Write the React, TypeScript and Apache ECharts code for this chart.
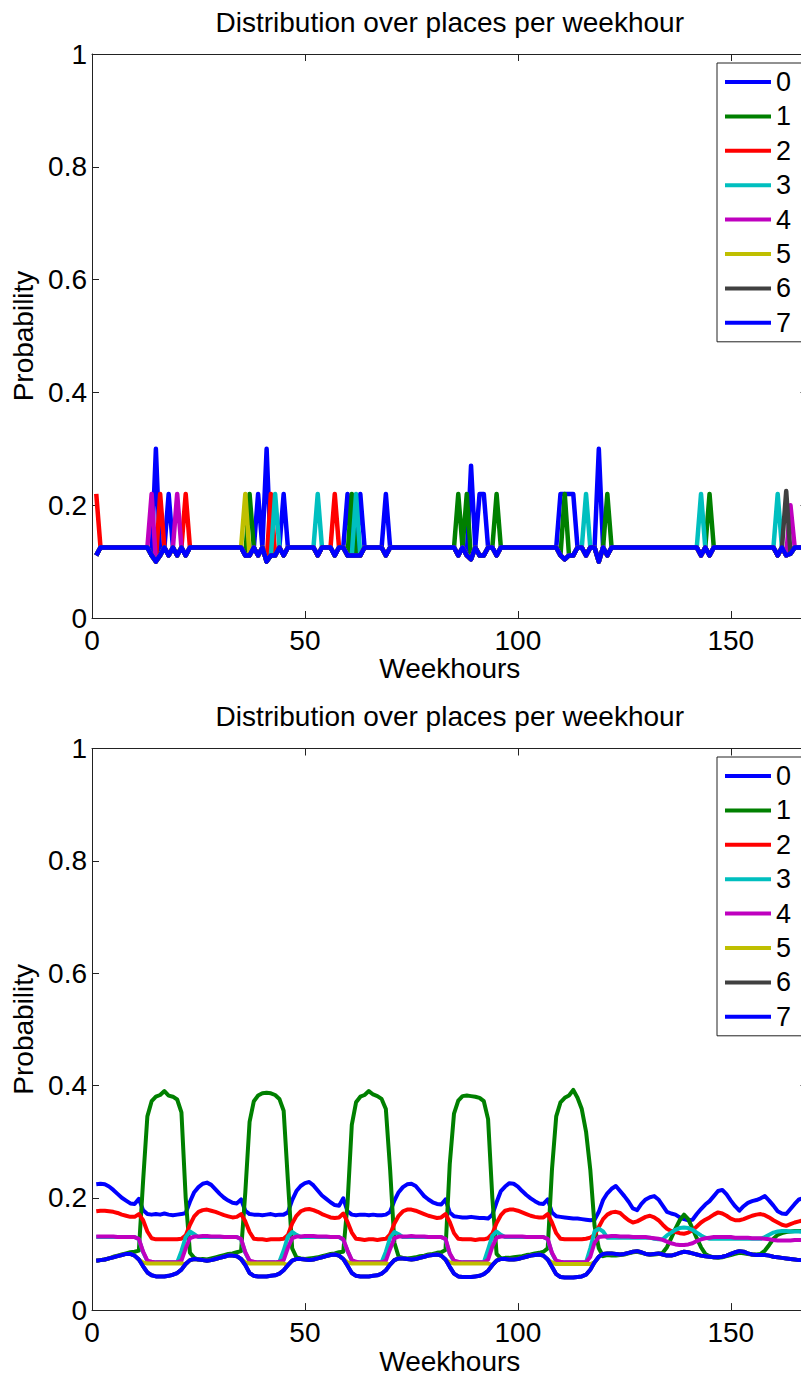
import { useEffect, useRef } from "react";
import * as echarts from "echarts";

// ---------------------------------------------------------------------------
// Data: probability of each place (0..7) for every hour of the week (1..168).
// Each array is written one day (24 hours) per line.
// ---------------------------------------------------------------------------

const HOURS: number[] = Array.from({ length: 168 }, (_, i) => i + 1);

const PLACE_NAMES = ["0", "1", "2", "3", "4", "5", "6", "7"];
const PLACE_COLORS = ["#0000ff", "#008000", "#ff0000", "#00bfbf", "#bf00bf", "#bfbf00", "#404040", "#0000ff"];

const TITLE = "Distribution over places per weekhour";
const X_NAME = "Weekhours";
const Y_NAME = "Probability";
const X_MAX = 168;
const X_STEP = 50;
const Y_MAX = 1;
const Y_STEP = 0.2;

// Upper panel: sparse observations, uniform 1/8 except at a few hours
const topPlace0 = [
  0.111, 0.125, 0.125, 0.125, 0.125, 0.125, 0.125, 0.125, 0.125, 0.125, 0.125, 0.125, 0.125, 0.111, 0.3, 0.111, 0.125, 0.22, 0.125, 0.111, 0.125, 0.111, 0.125, 0.125,
  0.125, 0.125, 0.125, 0.125, 0.125, 0.125, 0.125, 0.125, 0.125, 0.125, 0.125, 0.111, 0.111, 0.125, 0.22, 0.125, 0.3, 0.111, 0.111, 0.125, 0.22, 0.125, 0.125, 0.125,
  0.125, 0.125, 0.125, 0.125, 0.111, 0.125, 0.125, 0.125, 0.111, 0.125, 0.125, 0.22, 0.111, 0.111, 0.22, 0.125, 0.125, 0.125, 0.125, 0.125, 0.22, 0.125, 0.125, 0.125,
  0.125, 0.125, 0.125, 0.125, 0.125, 0.125, 0.125, 0.125, 0.125, 0.125, 0.125, 0.125, 0.125, 0.111, 0.125, 0.111, 0.27, 0.125, 0.22, 0.22, 0.125, 0.125, 0.111, 0.125,
  0.125, 0.125, 0.125, 0.125, 0.125, 0.125, 0.125, 0.125, 0.125, 0.125, 0.125, 0.125, 0.125, 0.22, 0.22, 0.22, 0.22, 0.125, 0.125, 0.111, 0.125, 0.125, 0.3, 0.125,
  0.111, 0.125, 0.125, 0.125, 0.125, 0.125, 0.125, 0.125, 0.125, 0.125, 0.125, 0.125, 0.125, 0.125, 0.125, 0.125, 0.125, 0.125, 0.125, 0.125, 0.125, 0.125, 0.111, 0.125,
  0.111, 0.125, 0.125, 0.125, 0.125, 0.125, 0.125, 0.125, 0.125, 0.125, 0.125, 0.125, 0.125, 0.125, 0.125, 0.125, 0.111, 0.125, 0.111, 0.114, 0.125, 0.125, 0.125, 0.125,
];
const topPlace1 = [
  0.111, 0.125, 0.125, 0.125, 0.125, 0.125, 0.125, 0.125, 0.125, 0.125, 0.125, 0.125, 0.125, 0.111, 0.1, 0.111, 0.125, 0.111, 0.125, 0.111, 0.125, 0.111, 0.125, 0.125,
  0.125, 0.125, 0.125, 0.125, 0.125, 0.125, 0.125, 0.125, 0.125, 0.125, 0.125, 0.111, 0.22, 0.125, 0.111, 0.125, 0.1, 0.111, 0.111, 0.125, 0.111, 0.125, 0.125, 0.125,
  0.125, 0.125, 0.125, 0.125, 0.111, 0.125, 0.125, 0.125, 0.111, 0.125, 0.125, 0.111, 0.22, 0.111, 0.111, 0.125, 0.125, 0.125, 0.125, 0.125, 0.111, 0.125, 0.125, 0.125,
  0.125, 0.125, 0.125, 0.125, 0.125, 0.125, 0.125, 0.125, 0.125, 0.125, 0.125, 0.125, 0.125, 0.22, 0.125, 0.22, 0.104, 0.125, 0.111, 0.111, 0.125, 0.125, 0.22, 0.125,
  0.125, 0.125, 0.125, 0.125, 0.125, 0.125, 0.125, 0.125, 0.125, 0.125, 0.125, 0.125, 0.125, 0.111, 0.22, 0.111, 0.111, 0.125, 0.125, 0.111, 0.125, 0.125, 0.1, 0.125,
  0.22, 0.125, 0.125, 0.125, 0.125, 0.125, 0.125, 0.125, 0.125, 0.125, 0.125, 0.125, 0.125, 0.125, 0.125, 0.125, 0.125, 0.125, 0.125, 0.125, 0.125, 0.125, 0.111, 0.125,
  0.22, 0.125, 0.125, 0.125, 0.125, 0.125, 0.125, 0.125, 0.125, 0.125, 0.125, 0.125, 0.125, 0.125, 0.125, 0.125, 0.111, 0.125, 0.111, 0.114, 0.125, 0.125, 0.125, 0.125,
];
const topPlace2 = [
  0.22, 0.125, 0.125, 0.125, 0.125, 0.125, 0.125, 0.125, 0.125, 0.125, 0.125, 0.125, 0.125, 0.111, 0.1, 0.22, 0.125, 0.111, 0.125, 0.111, 0.125, 0.22, 0.125, 0.125,
  0.125, 0.125, 0.125, 0.125, 0.125, 0.125, 0.125, 0.125, 0.125, 0.125, 0.125, 0.111, 0.111, 0.125, 0.111, 0.125, 0.1, 0.22, 0.111, 0.125, 0.111, 0.125, 0.125, 0.125,
  0.125, 0.125, 0.125, 0.125, 0.111, 0.125, 0.125, 0.125, 0.22, 0.125, 0.125, 0.111, 0.111, 0.111, 0.111, 0.125, 0.125, 0.125, 0.125, 0.125, 0.111, 0.125, 0.125, 0.125,
  0.125, 0.125, 0.125, 0.125, 0.125, 0.125, 0.125, 0.125, 0.125, 0.125, 0.125, 0.125, 0.125, 0.111, 0.125, 0.111, 0.104, 0.125, 0.111, 0.111, 0.125, 0.125, 0.111, 0.125,
  0.125, 0.125, 0.125, 0.125, 0.125, 0.125, 0.125, 0.125, 0.125, 0.125, 0.125, 0.125, 0.125, 0.111, 0.104, 0.111, 0.111, 0.125, 0.125, 0.111, 0.125, 0.125, 0.1, 0.125,
  0.111, 0.125, 0.125, 0.125, 0.125, 0.125, 0.125, 0.125, 0.125, 0.125, 0.125, 0.125, 0.125, 0.125, 0.125, 0.125, 0.125, 0.125, 0.125, 0.125, 0.125, 0.125, 0.111, 0.125,
  0.111, 0.125, 0.125, 0.125, 0.125, 0.125, 0.125, 0.125, 0.125, 0.125, 0.125, 0.125, 0.125, 0.125, 0.125, 0.125, 0.111, 0.125, 0.111, 0.114, 0.125, 0.125, 0.125, 0.125,
];
const topPlace3 = [
  0.111, 0.125, 0.125, 0.125, 0.125, 0.125, 0.125, 0.125, 0.125, 0.125, 0.125, 0.125, 0.125, 0.111, 0.1, 0.111, 0.125, 0.111, 0.125, 0.111, 0.125, 0.111, 0.125, 0.125,
  0.125, 0.125, 0.125, 0.125, 0.125, 0.125, 0.125, 0.125, 0.125, 0.125, 0.125, 0.111, 0.111, 0.125, 0.111, 0.125, 0.1, 0.111, 0.22, 0.125, 0.111, 0.125, 0.125, 0.125,
  0.125, 0.125, 0.125, 0.125, 0.22, 0.125, 0.125, 0.125, 0.111, 0.125, 0.125, 0.111, 0.111, 0.22, 0.111, 0.125, 0.125, 0.125, 0.125, 0.125, 0.111, 0.125, 0.125, 0.125,
  0.125, 0.125, 0.125, 0.125, 0.125, 0.125, 0.125, 0.125, 0.125, 0.125, 0.125, 0.125, 0.125, 0.111, 0.125, 0.111, 0.104, 0.125, 0.111, 0.111, 0.125, 0.125, 0.111, 0.125,
  0.125, 0.125, 0.125, 0.125, 0.125, 0.125, 0.125, 0.125, 0.125, 0.125, 0.125, 0.125, 0.125, 0.111, 0.104, 0.111, 0.111, 0.125, 0.125, 0.22, 0.125, 0.125, 0.1, 0.125,
  0.111, 0.125, 0.125, 0.125, 0.125, 0.125, 0.125, 0.125, 0.125, 0.125, 0.125, 0.125, 0.125, 0.125, 0.125, 0.125, 0.125, 0.125, 0.125, 0.125, 0.125, 0.125, 0.22, 0.125,
  0.111, 0.125, 0.125, 0.125, 0.125, 0.125, 0.125, 0.125, 0.125, 0.125, 0.125, 0.125, 0.125, 0.125, 0.125, 0.125, 0.22, 0.125, 0.111, 0.114, 0.125, 0.125, 0.125, 0.125,
];
const topPlace4 = [
  0.111, 0.125, 0.125, 0.125, 0.125, 0.125, 0.125, 0.125, 0.125, 0.125, 0.125, 0.125, 0.125, 0.22, 0.1, 0.111, 0.125, 0.111, 0.125, 0.22, 0.125, 0.111, 0.125, 0.125,
  0.125, 0.125, 0.125, 0.125, 0.125, 0.125, 0.125, 0.125, 0.125, 0.125, 0.125, 0.111, 0.111, 0.125, 0.111, 0.125, 0.1, 0.111, 0.111, 0.125, 0.111, 0.125, 0.125, 0.125,
  0.125, 0.125, 0.125, 0.125, 0.111, 0.125, 0.125, 0.125, 0.111, 0.125, 0.125, 0.111, 0.111, 0.111, 0.111, 0.125, 0.125, 0.125, 0.125, 0.125, 0.111, 0.125, 0.125, 0.125,
  0.125, 0.125, 0.125, 0.125, 0.125, 0.125, 0.125, 0.125, 0.125, 0.125, 0.125, 0.125, 0.125, 0.111, 0.125, 0.111, 0.104, 0.125, 0.111, 0.111, 0.125, 0.125, 0.111, 0.125,
  0.125, 0.125, 0.125, 0.125, 0.125, 0.125, 0.125, 0.125, 0.125, 0.125, 0.125, 0.125, 0.125, 0.111, 0.104, 0.111, 0.111, 0.125, 0.125, 0.111, 0.125, 0.125, 0.1, 0.125,
  0.111, 0.125, 0.125, 0.125, 0.125, 0.125, 0.125, 0.125, 0.125, 0.125, 0.125, 0.125, 0.125, 0.125, 0.125, 0.125, 0.125, 0.125, 0.125, 0.125, 0.125, 0.125, 0.111, 0.125,
  0.111, 0.125, 0.125, 0.125, 0.125, 0.125, 0.125, 0.125, 0.125, 0.125, 0.125, 0.125, 0.125, 0.125, 0.125, 0.125, 0.111, 0.125, 0.111, 0.2, 0.125, 0.125, 0.125, 0.125,
];
const topPlace5 = [
  0.111, 0.125, 0.125, 0.125, 0.125, 0.125, 0.125, 0.125, 0.125, 0.125, 0.125, 0.125, 0.125, 0.111, 0.1, 0.111, 0.125, 0.111, 0.125, 0.111, 0.125, 0.111, 0.125, 0.125,
  0.125, 0.125, 0.125, 0.125, 0.125, 0.125, 0.125, 0.125, 0.125, 0.125, 0.125, 0.22, 0.111, 0.125, 0.111, 0.125, 0.1, 0.111, 0.111, 0.125, 0.111, 0.125, 0.125, 0.125,
  0.125, 0.125, 0.125, 0.125, 0.111, 0.125, 0.125, 0.125, 0.111, 0.125, 0.125, 0.111, 0.111, 0.111, 0.111, 0.125, 0.125, 0.125, 0.125, 0.125, 0.111, 0.125, 0.125, 0.125,
  0.125, 0.125, 0.125, 0.125, 0.125, 0.125, 0.125, 0.125, 0.125, 0.125, 0.125, 0.125, 0.125, 0.111, 0.125, 0.111, 0.104, 0.125, 0.111, 0.111, 0.125, 0.125, 0.111, 0.125,
  0.125, 0.125, 0.125, 0.125, 0.125, 0.125, 0.125, 0.125, 0.125, 0.125, 0.125, 0.125, 0.125, 0.111, 0.104, 0.111, 0.111, 0.125, 0.125, 0.111, 0.125, 0.125, 0.1, 0.125,
  0.111, 0.125, 0.125, 0.125, 0.125, 0.125, 0.125, 0.125, 0.125, 0.125, 0.125, 0.125, 0.125, 0.125, 0.125, 0.125, 0.125, 0.125, 0.125, 0.125, 0.125, 0.125, 0.111, 0.125,
  0.111, 0.125, 0.125, 0.125, 0.125, 0.125, 0.125, 0.125, 0.125, 0.125, 0.125, 0.125, 0.125, 0.125, 0.125, 0.125, 0.111, 0.125, 0.111, 0.114, 0.125, 0.125, 0.125, 0.125,
];
const topPlace6 = [
  0.111, 0.125, 0.125, 0.125, 0.125, 0.125, 0.125, 0.125, 0.125, 0.125, 0.125, 0.125, 0.125, 0.111, 0.1, 0.111, 0.125, 0.111, 0.125, 0.111, 0.125, 0.111, 0.125, 0.125,
  0.125, 0.125, 0.125, 0.125, 0.125, 0.125, 0.125, 0.125, 0.125, 0.125, 0.125, 0.111, 0.111, 0.125, 0.111, 0.125, 0.1, 0.111, 0.111, 0.125, 0.111, 0.125, 0.125, 0.125,
  0.125, 0.125, 0.125, 0.125, 0.111, 0.125, 0.125, 0.125, 0.111, 0.125, 0.125, 0.111, 0.111, 0.111, 0.111, 0.125, 0.125, 0.125, 0.125, 0.125, 0.111, 0.125, 0.125, 0.125,
  0.125, 0.125, 0.125, 0.125, 0.125, 0.125, 0.125, 0.125, 0.125, 0.125, 0.125, 0.125, 0.125, 0.111, 0.125, 0.111, 0.104, 0.125, 0.111, 0.111, 0.125, 0.125, 0.111, 0.125,
  0.125, 0.125, 0.125, 0.125, 0.125, 0.125, 0.125, 0.125, 0.125, 0.125, 0.125, 0.125, 0.125, 0.111, 0.104, 0.111, 0.111, 0.125, 0.125, 0.111, 0.125, 0.125, 0.1, 0.125,
  0.111, 0.125, 0.125, 0.125, 0.125, 0.125, 0.125, 0.125, 0.125, 0.125, 0.125, 0.125, 0.125, 0.125, 0.125, 0.125, 0.125, 0.125, 0.125, 0.125, 0.125, 0.125, 0.111, 0.125,
  0.111, 0.125, 0.125, 0.125, 0.125, 0.125, 0.125, 0.125, 0.125, 0.125, 0.125, 0.125, 0.125, 0.125, 0.125, 0.125, 0.111, 0.125, 0.225, 0.114, 0.125, 0.125, 0.125, 0.125,
];
const topPlace7 = [
  0.111, 0.125, 0.125, 0.125, 0.125, 0.125, 0.125, 0.125, 0.125, 0.125, 0.125, 0.125, 0.125, 0.111, 0.1, 0.111, 0.125, 0.111, 0.125, 0.111, 0.125, 0.111, 0.125, 0.125,
  0.125, 0.125, 0.125, 0.125, 0.125, 0.125, 0.125, 0.125, 0.125, 0.125, 0.125, 0.111, 0.111, 0.125, 0.111, 0.125, 0.1, 0.111, 0.111, 0.125, 0.111, 0.125, 0.125, 0.125,
  0.125, 0.125, 0.125, 0.125, 0.111, 0.125, 0.125, 0.125, 0.111, 0.125, 0.125, 0.111, 0.111, 0.111, 0.111, 0.125, 0.125, 0.125, 0.125, 0.125, 0.111, 0.125, 0.125, 0.125,
  0.125, 0.125, 0.125, 0.125, 0.125, 0.125, 0.125, 0.125, 0.125, 0.125, 0.125, 0.125, 0.125, 0.111, 0.125, 0.111, 0.104, 0.125, 0.111, 0.111, 0.125, 0.125, 0.111, 0.125,
  0.125, 0.125, 0.125, 0.125, 0.125, 0.125, 0.125, 0.125, 0.125, 0.125, 0.125, 0.125, 0.125, 0.111, 0.104, 0.111, 0.111, 0.125, 0.125, 0.111, 0.125, 0.125, 0.1, 0.125,
  0.111, 0.125, 0.125, 0.125, 0.125, 0.125, 0.125, 0.125, 0.125, 0.125, 0.125, 0.125, 0.125, 0.125, 0.125, 0.125, 0.125, 0.125, 0.125, 0.125, 0.125, 0.125, 0.111, 0.125,
  0.111, 0.125, 0.125, 0.125, 0.125, 0.125, 0.125, 0.125, 0.125, 0.125, 0.125, 0.125, 0.125, 0.125, 0.125, 0.125, 0.111, 0.125, 0.111, 0.114, 0.125, 0.125, 0.125, 0.125,
];

// Lower panel: smoothed weekly profile
const bottomPlace0 = [
  0.224, 0.225, 0.224, 0.220, 0.214, 0.207, 0.200, 0.195, 0.190, 0.189, 0.198, 0.178, 0.171, 0.170, 0.171, 0.170, 0.172, 0.170, 0.169, 0.170, 0.171, 0.173, 0.193, 0.210,
  0.219, 0.225, 0.227, 0.223, 0.215, 0.207, 0.200, 0.195, 0.191, 0.190, 0.197, 0.177, 0.171, 0.170, 0.170, 0.169, 0.170, 0.171, 0.169, 0.170, 0.170, 0.174, 0.196, 0.212,
  0.221, 0.226, 0.228, 0.222, 0.213, 0.204, 0.198, 0.192, 0.187, 0.186, 0.199, 0.176, 0.170, 0.169, 0.170, 0.170, 0.169, 0.170, 0.169, 0.169, 0.170, 0.175, 0.195, 0.210,
  0.219, 0.224, 0.225, 0.221, 0.212, 0.203, 0.197, 0.192, 0.189, 0.188, 0.197, 0.174, 0.167, 0.166, 0.165, 0.165, 0.166, 0.165, 0.164, 0.164, 0.163, 0.170, 0.192, 0.212,
  0.220, 0.226, 0.225, 0.220, 0.212, 0.205, 0.199, 0.194, 0.190, 0.189, 0.197, 0.174, 0.167, 0.166, 0.165, 0.164, 0.163, 0.163, 0.162, 0.161, 0.160, 0.161, 0.175, 0.196,
  0.208, 0.216, 0.221, 0.212, 0.203, 0.193, 0.181, 0.178, 0.189, 0.197, 0.201, 0.203, 0.197, 0.186, 0.175, 0.172, 0.170, 0.165, 0.162, 0.160, 0.161, 0.171, 0.180, 0.188,
  0.194, 0.203, 0.212, 0.214, 0.206, 0.195, 0.185, 0.177, 0.185, 0.191, 0.194, 0.196, 0.199, 0.203, 0.195, 0.186, 0.176, 0.172, 0.171, 0.180, 0.189, 0.197, 0.199, 0.201,
];
const bottomPlace1 = [
  0.088, 0.089, 0.090, 0.092, 0.095, 0.097, 0.099, 0.101, 0.103, 0.104, 0.106, 0.230, 0.345, 0.372, 0.380, 0.383, 0.390, 0.382, 0.380, 0.375, 0.352, 0.200, 0.102, 0.093,
  0.090, 0.091, 0.090, 0.092, 0.094, 0.096, 0.098, 0.100, 0.101, 0.103, 0.105, 0.210, 0.335, 0.372, 0.382, 0.386, 0.387, 0.386, 0.383, 0.376, 0.355, 0.230, 0.110, 0.094,
  0.092, 0.091, 0.092, 0.093, 0.094, 0.096, 0.098, 0.100, 0.101, 0.103, 0.104, 0.190, 0.330, 0.370, 0.380, 0.383, 0.390, 0.384, 0.381, 0.376, 0.358, 0.250, 0.120, 0.095,
  0.093, 0.092, 0.093, 0.094, 0.096, 0.097, 0.099, 0.100, 0.102, 0.103, 0.107, 0.260, 0.350, 0.373, 0.381, 0.382, 0.381, 0.380, 0.378, 0.372, 0.340, 0.200, 0.100, 0.092,
  0.093, 0.093, 0.094, 0.095, 0.096, 0.098, 0.099, 0.101, 0.102, 0.104, 0.110, 0.250, 0.345, 0.370, 0.378, 0.382, 0.392, 0.378, 0.358, 0.318, 0.250, 0.150, 0.110, 0.096,
  0.098, 0.097, 0.097, 0.098, 0.099, 0.101, 0.103, 0.104, 0.102, 0.100, 0.099, 0.099, 0.100, 0.102, 0.112, 0.128, 0.145, 0.160, 0.170, 0.162, 0.145, 0.128, 0.112, 0.100,
  0.096, 0.094, 0.093, 0.094, 0.096, 0.098, 0.100, 0.102, 0.101, 0.100, 0.099, 0.099, 0.100, 0.106, 0.116, 0.127, 0.134, 0.137, 0.139, 0.140, 0.141, 0.141, 0.141, 0.140,
];
const bottomPlace2 = [
  0.176, 0.177, 0.177, 0.176, 0.175, 0.173, 0.170, 0.168, 0.166, 0.166, 0.171, 0.160, 0.140, 0.128, 0.126, 0.126, 0.126, 0.126, 0.126, 0.126, 0.127, 0.133, 0.152, 0.167,
  0.175, 0.178, 0.179, 0.177, 0.175, 0.172, 0.169, 0.167, 0.165, 0.166, 0.171, 0.158, 0.139, 0.127, 0.126, 0.126, 0.125, 0.126, 0.126, 0.126, 0.127, 0.134, 0.154, 0.168,
  0.176, 0.179, 0.180, 0.178, 0.175, 0.171, 0.168, 0.165, 0.164, 0.165, 0.172, 0.157, 0.138, 0.127, 0.126, 0.125, 0.126, 0.126, 0.125, 0.126, 0.127, 0.135, 0.154, 0.168,
  0.176, 0.179, 0.179, 0.177, 0.174, 0.171, 0.168, 0.166, 0.164, 0.165, 0.171, 0.157, 0.137, 0.127, 0.126, 0.126, 0.126, 0.125, 0.126, 0.126, 0.128, 0.136, 0.155, 0.169,
  0.177, 0.179, 0.179, 0.177, 0.174, 0.171, 0.168, 0.166, 0.165, 0.165, 0.171, 0.156, 0.137, 0.127, 0.126, 0.126, 0.126, 0.126, 0.126, 0.127, 0.129, 0.134, 0.148, 0.162,
  0.170, 0.174, 0.175, 0.173, 0.166, 0.160, 0.156, 0.158, 0.162, 0.166, 0.168, 0.165, 0.160, 0.152, 0.145, 0.141, 0.139, 0.137, 0.136, 0.138, 0.142, 0.149, 0.156, 0.161,
  0.165, 0.170, 0.174, 0.172, 0.168, 0.163, 0.160, 0.160, 0.162, 0.165, 0.168, 0.170, 0.171, 0.169, 0.165, 0.160, 0.156, 0.152, 0.150, 0.153, 0.156, 0.158, 0.160, 0.161,
];
const bottomPlace3 = [
  0.130, 0.130, 0.130, 0.130, 0.130, 0.130, 0.130, 0.130, 0.130, 0.130, 0.126, 0.103, 0.087, 0.085, 0.085, 0.085, 0.085, 0.085, 0.085, 0.085, 0.105, 0.130, 0.140, 0.135,
  0.130, 0.130, 0.130, 0.130, 0.130, 0.130, 0.130, 0.130, 0.130, 0.130, 0.126, 0.102, 0.087, 0.085, 0.085, 0.085, 0.085, 0.085, 0.085, 0.086, 0.106, 0.131, 0.139, 0.134,
  0.130, 0.130, 0.130, 0.130, 0.130, 0.130, 0.130, 0.130, 0.130, 0.130, 0.125, 0.105, 0.088, 0.085, 0.085, 0.085, 0.085, 0.085, 0.085, 0.085, 0.104, 0.129, 0.139, 0.135,
  0.130, 0.130, 0.130, 0.130, 0.130, 0.130, 0.130, 0.130, 0.130, 0.130, 0.126, 0.100, 0.087, 0.085, 0.085, 0.085, 0.085, 0.085, 0.085, 0.085, 0.108, 0.132, 0.140, 0.134,
  0.130, 0.130, 0.130, 0.130, 0.130, 0.130, 0.130, 0.130, 0.130, 0.130, 0.126, 0.101, 0.087, 0.085, 0.085, 0.085, 0.085, 0.085, 0.085, 0.085, 0.110, 0.140, 0.145, 0.140,
  0.129, 0.129, 0.129, 0.129, 0.129, 0.129, 0.129, 0.129, 0.129, 0.129, 0.129, 0.127, 0.126, 0.126, 0.133, 0.138, 0.143, 0.146, 0.147, 0.146, 0.143, 0.138, 0.133, 0.129,
  0.127, 0.127, 0.127, 0.127, 0.127, 0.127, 0.127, 0.127, 0.127, 0.127, 0.127, 0.127, 0.127, 0.130, 0.134, 0.138, 0.140, 0.141, 0.141, 0.140, 0.140, 0.140, 0.139, 0.139,
];
const bottomPlace4 = [
  0.131, 0.131, 0.131, 0.131, 0.131, 0.130, 0.130, 0.130, 0.130, 0.130, 0.127, 0.104, 0.088, 0.086, 0.085, 0.085, 0.085, 0.085, 0.085, 0.085, 0.088, 0.110, 0.128, 0.131,
  0.131, 0.132, 0.132, 0.131, 0.131, 0.131, 0.130, 0.130, 0.130, 0.130, 0.127, 0.103, 0.088, 0.086, 0.085, 0.085, 0.085, 0.085, 0.085, 0.086, 0.089, 0.111, 0.128, 0.131,
  0.131, 0.132, 0.132, 0.132, 0.131, 0.131, 0.131, 0.130, 0.130, 0.130, 0.126, 0.106, 0.089, 0.086, 0.085, 0.085, 0.085, 0.085, 0.085, 0.085, 0.088, 0.109, 0.128, 0.131,
  0.131, 0.131, 0.132, 0.131, 0.131, 0.131, 0.130, 0.130, 0.130, 0.130, 0.127, 0.101, 0.088, 0.086, 0.085, 0.085, 0.085, 0.085, 0.085, 0.085, 0.090, 0.113, 0.129, 0.131,
  0.131, 0.131, 0.131, 0.131, 0.131, 0.130, 0.130, 0.130, 0.130, 0.130, 0.127, 0.102, 0.088, 0.086, 0.085, 0.085, 0.085, 0.085, 0.085, 0.085, 0.095, 0.120, 0.130, 0.131,
  0.131, 0.132, 0.132, 0.131, 0.131, 0.131, 0.130, 0.130, 0.130, 0.130, 0.129, 0.128, 0.127, 0.125, 0.122, 0.119, 0.117, 0.116, 0.116, 0.117, 0.119, 0.123, 0.126, 0.128,
  0.129, 0.130, 0.130, 0.130, 0.130, 0.130, 0.129, 0.129, 0.129, 0.129, 0.128, 0.128, 0.128, 0.127, 0.126, 0.125, 0.124, 0.124, 0.124, 0.124, 0.125, 0.125, 0.125, 0.125,
];
const bottomPlace5 = [
  0.088, 0.089, 0.090, 0.092, 0.094, 0.096, 0.098, 0.100, 0.100, 0.097, 0.090, 0.085, 0.083, 0.083, 0.083, 0.083, 0.083, 0.083, 0.083, 0.083, 0.083, 0.082, 0.089, 0.091,
  0.090, 0.089, 0.088, 0.089, 0.091, 0.093, 0.095, 0.097, 0.097, 0.096, 0.091, 0.085, 0.083, 0.083, 0.083, 0.083, 0.083, 0.083, 0.083, 0.083, 0.083, 0.080, 0.088, 0.091,
  0.091, 0.090, 0.089, 0.090, 0.092, 0.094, 0.096, 0.098, 0.099, 0.097, 0.091, 0.085, 0.083, 0.083, 0.083, 0.083, 0.083, 0.083, 0.083, 0.083, 0.083, 0.081, 0.089, 0.092,
  0.092, 0.091, 0.090, 0.091, 0.093, 0.095, 0.097, 0.098, 0.099, 0.097, 0.090, 0.085, 0.083, 0.083, 0.083, 0.083, 0.083, 0.083, 0.083, 0.083, 0.083, 0.080, 0.088, 0.091,
  0.091, 0.090, 0.090, 0.091, 0.093, 0.095, 0.097, 0.098, 0.099, 0.097, 0.090, 0.085, 0.082, 0.082, 0.082, 0.082, 0.082, 0.082, 0.082, 0.082, 0.082, 0.085, 0.095, 0.100,
  0.101, 0.101, 0.100, 0.099, 0.100, 0.102, 0.104, 0.105, 0.103, 0.100, 0.099, 0.100, 0.101, 0.099, 0.097, 0.097, 0.099, 0.102, 0.104, 0.103, 0.101, 0.099, 0.097, 0.096,
  0.095, 0.094, 0.094, 0.095, 0.097, 0.100, 0.103, 0.105, 0.104, 0.101, 0.099, 0.098, 0.098, 0.098, 0.097, 0.095, 0.094, 0.093, 0.092, 0.091, 0.090, 0.089, 0.089, 0.089,
];
const bottomPlace7 = [
  0.088, 0.089, 0.090, 0.092, 0.094, 0.096, 0.098, 0.100, 0.100, 0.097, 0.090, 0.078, 0.067, 0.062, 0.060, 0.060, 0.060, 0.061, 0.063, 0.066, 0.072, 0.082, 0.089, 0.091,
  0.090, 0.089, 0.088, 0.089, 0.091, 0.093, 0.095, 0.097, 0.097, 0.096, 0.091, 0.080, 0.066, 0.061, 0.060, 0.060, 0.060, 0.061, 0.062, 0.065, 0.071, 0.080, 0.088, 0.091,
  0.091, 0.090, 0.089, 0.090, 0.092, 0.094, 0.096, 0.098, 0.099, 0.097, 0.091, 0.079, 0.066, 0.061, 0.060, 0.060, 0.060, 0.061, 0.062, 0.065, 0.071, 0.081, 0.089, 0.092,
  0.092, 0.091, 0.090, 0.091, 0.093, 0.095, 0.097, 0.098, 0.099, 0.097, 0.090, 0.077, 0.065, 0.060, 0.059, 0.059, 0.059, 0.060, 0.061, 0.064, 0.070, 0.080, 0.088, 0.091,
  0.091, 0.090, 0.090, 0.091, 0.093, 0.095, 0.097, 0.098, 0.099, 0.097, 0.090, 0.077, 0.064, 0.059, 0.058, 0.058, 0.058, 0.059, 0.060, 0.063, 0.072, 0.085, 0.095, 0.100,
  0.101, 0.101, 0.100, 0.099, 0.100, 0.102, 0.104, 0.105, 0.103, 0.100, 0.099, 0.100, 0.101, 0.099, 0.097, 0.097, 0.099, 0.102, 0.104, 0.103, 0.101, 0.099, 0.097, 0.096,
  0.095, 0.094, 0.094, 0.095, 0.097, 0.100, 0.103, 0.105, 0.104, 0.101, 0.099, 0.098, 0.098, 0.098, 0.097, 0.095, 0.094, 0.093, 0.092, 0.091, 0.090, 0.089, 0.089, 0.089,
];
// place 6 coincides with place 7 over the whole week (fully covered by it)
const bottomPlace6 = bottomPlace7;

const TOP_PLACES = [topPlace0, topPlace1, topPlace2, topPlace3, topPlace4, topPlace5, topPlace6, topPlace7];
const BOTTOM_PLACES = [bottomPlace0, bottomPlace1, bottomPlace2, bottomPlace3, bottomPlace4, bottomPlace5, bottomPlace6, bottomPlace7];

// ---------------------------------------------------------------------------
// Layout and styling
// ---------------------------------------------------------------------------
const FONT = '"Liberation Sans", Arial, Helvetica, sans-serif';
const AXIS_COLOR = "#222";
const CHART_WIDTH = 830;
const CHART_HEIGHT = 1376;
const GRID_LEFT = 92;
const GRID_WIDTH = 715.5;

const PANELS = [
  { places: TOP_PLACES, top: 54, height: 564, titleTop: 8, legendTop: 63, lineWidth: 4.5 },
  { places: BOTTOM_PLACES, top: 748.5, height: 564.5, titleTop: 702, legendTop: 757, lineWidth: 4 },
];

function buildOption() {
  const textBase = { color: "#000", fontFamily: FONT };
  const grid: any[] = [];
  const xAxis: any[] = [];
  const yAxis: any[] = [];
  const series: any[] = [];
  const title: any[] = [];
  const legend: any[] = [];

  PANELS.forEach((panel, k) => {
    grid.push({ left: GRID_LEFT, top: panel.top, width: GRID_WIDTH, height: panel.height, show: false });

    const xCommon = {
      type: "value",
      gridIndex: k,
      min: 0,
      max: X_MAX,
      interval: X_STEP,
      splitLine: { show: false },
      axisLine: { show: true, onZero: false, lineStyle: { color: AXIS_COLOR, width: 1 } },
      axisTick: { show: true, inside: true, length: 7, lineStyle: { color: AXIS_COLOR, width: 1 } },
    };
    xAxis.push({
      ...xCommon,
      position: "bottom",
      name: X_NAME,
      nameLocation: "middle",
      nameGap: 36,
      nameTextStyle: { ...textBase, fontSize: 28 },
      axisLabel: {
        ...textBase,
        fontSize: 28,
        margin: 8,
        formatter: (v: number) => (v % X_STEP === 0 ? String(v) : ""),
      },
    });
    xAxis.push({ ...xCommon, position: "top", axisLabel: { show: false } });

    const yCommon = {
      type: "value",
      gridIndex: k,
      min: 0,
      max: Y_MAX,
      interval: Y_STEP,
      splitLine: { show: false },
      axisLine: { show: true, onZero: false, lineStyle: { color: AXIS_COLOR, width: 1 } },
      axisTick: { show: true, inside: true, length: 7, lineStyle: { color: AXIS_COLOR, width: 1 } },
    };
    yAxis.push({
      ...yCommon,
      position: "left",
      name: Y_NAME,
      nameLocation: "middle",
      nameRotate: 90,
      nameGap: 54,
      nameTextStyle: { ...textBase, fontSize: 28 },
      axisLabel: { ...textBase, fontSize: 28, margin: 5 },
    });
    yAxis.push({ ...yCommon, position: "right", axisLabel: { show: false } });

    panel.places.forEach((values, i) => {
      series.push({
        type: "line",
        name: PLACE_NAMES[i],
        xAxisIndex: 2 * k,
        yAxisIndex: 2 * k,
        data: HOURS.map((h, j) => [h, values[j]]),
        showSymbol: false,
        symbol: "none",
        color: PLACE_COLORS[i],
        lineStyle: { color: PLACE_COLORS[i], width: panel.lineWidth, join: "round" },
        emphasis: { disabled: true },
      });
    });

    title.push({
      text: TITLE,
      left: GRID_LEFT + GRID_WIDTH / 2,
      top: panel.titleTop,
      textAlign: "center",
      padding: 0,
      textStyle: { ...textBase, fontSize: 28, fontWeight: "normal" },
    });

    legend.push({
      orient: "vertical",
      left: 717,
      top: panel.legendTop,
      data: PLACE_NAMES,
      icon: "rect",
      itemWidth: 46,
      itemHeight: 4,
      itemGap: 0.4,
      padding: [2, 30, 2, 8],
      borderColor: AXIS_COLOR,
      borderWidth: 1,
      backgroundColor: "#fff",
      selectedMode: false,
      textStyle: { ...textBase, fontSize: 27, lineHeight: 34 },
    });
  });

  return { animation: false, backgroundColor: "#fff", title, legend, grid, xAxis, yAxis, series };
}

export default function App() {
  const ref = useRef<HTMLDivElement>(null);

  useEffect(() => {
    if (!ref.current) return;
    const chart = echarts.init(ref.current, null, { renderer: "svg" });
    chart.setOption(buildOption() as any);
    return () => chart.dispose();
  }, []);

  return (
    <div
      style={{
        position: "absolute",
        left: 0,
        top: 0,
        width: 801,
        height: CHART_HEIGHT,
        overflow: "hidden",
        background: "#fff",
      }}
    >
      <div ref={ref} style={{ width: CHART_WIDTH, height: CHART_HEIGHT }} />
    </div>
  );
}
